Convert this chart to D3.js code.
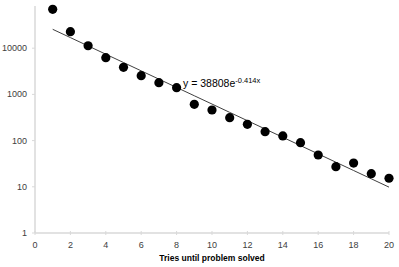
<!DOCTYPE html>
<html><head><meta charset="utf-8">
<script src="https://cdn.jsdelivr.net/npm/d3@7"></script>
<style>body{margin:0;background:#fff}svg{display:block}</style>
</head><body>
<script>
const tries = [1,2,3,4,5,6,7,8,9,10,11,12,13,14,15,16,17,18,19,20];
const counts = [69500,22800,11300,6230,3860,2540,1790,1400,611,459,313,225,156,126,90,48.8,27.2,32.7,19.2,15.3];
const xTicks = [0,2,4,6,8,10,12,14,16,18,20];
const yTicks = [1,10,100,1000,10000];
const fitA = 38808, fitB = -0.414;
const xLabel = "Tries until problem solved";

const W = 399, H = 267;
const svg = d3.select("body").append("svg").attr("width", W).attr("height", H);
const x = d3.scaleLinear().domain([0,20]).range([35,389]);
const y = d3.scaleLog().domain([1,100000]).range([233,2]);

// axes lines
svg.append("line").attr("x1",x(0)).attr("x2",x(0)).attr("y1",y(1)).attr("y2",6)
  .attr("stroke","#d9d9d9").attr("stroke-width",1.5);
svg.append("line").attr("x1",x(0)).attr("x2",x(20)).attr("y1",y(1)).attr("y2",y(1))
  .attr("stroke","#d9d9d9").attr("stroke-width",1.5);

// x ticks
const xg = svg.append("g");
xTicks.forEach(t => {
  xg.append("line").attr("x1",x(t)).attr("x2",x(t)).attr("y1",y(1)-2).attr("y2",y(1)+2).attr("stroke","#d9d9d9");
  xg.append("text").attr("x",x(t)).attr("y",y(1)+15).attr("text-anchor","middle")
    .attr("font-family","Liberation Sans, Arial, sans-serif").attr("font-size",9).attr("fill","#404040").text(t);
});
// y ticks
yTicks.forEach(t => {
  svg.append("line").attr("x1",x(0)-3).attr("x2",x(0)).attr("y1",y(t)).attr("y2",y(t)).attr("stroke","#d9d9d9");
  svg.append("text").attr("x",27).attr("y",y(t)+3).attr("text-anchor","end")
    .attr("font-family","Liberation Sans, Arial, sans-serif").attr("font-size",9).attr("fill","#404040").text(t);
});

// trend line
const line = d3.line().x(d=>x(d)).y(d=>y(fitA*Math.exp(fitB*d)));
svg.append("path").datum(tries).attr("d",line).attr("fill","none").attr("stroke","#404040").attr("stroke-width",1);

// points
svg.selectAll("circle.pt").data(tries).enter().append("circle")
  .attr("cx",d=>x(d)).attr("cy",(d,i)=>y(counts[i])).attr("r",4.6).attr("fill","#000");

// equation
const eq = svg.append("text").attr("x",183).attr("y",86.5)
  .attr("font-family","Liberation Sans, Arial, sans-serif").attr("font-size",10.5).attr("fill","#000");
eq.append("tspan").text("y = " + fitA + "e");
eq.append("tspan").attr("dy",-4).attr("font-size",7.5).text(fitB + "x");

// x label
svg.append("text").attr("x",212).attr("y",261).attr("text-anchor","middle")
  .attr("font-family","Liberation Sans, Arial, sans-serif").attr("font-size",8.5).attr("font-weight","bold").attr("fill","#000").text(xLabel);
</script>
</body></html>
